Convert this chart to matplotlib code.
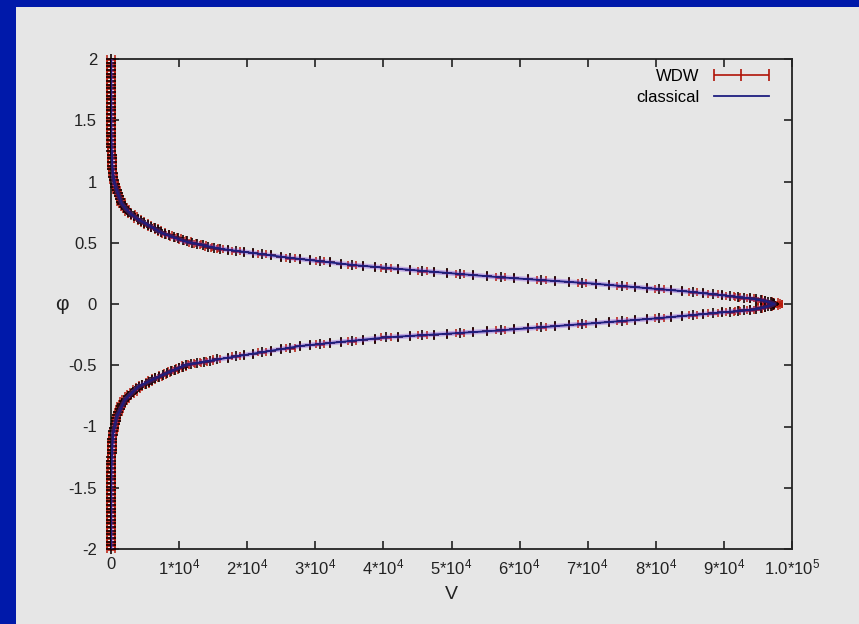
import matplotlib
matplotlib.use("Agg")
import matplotlib.pyplot as plt
from matplotlib.patches import Rectangle
from matplotlib.lines import Line2D
from matplotlib.container import ErrorbarContainer
from matplotlib.legend_handler import HandlerErrorbar

plt.rcParams["font.family"] = ["Liberation Sans", "DejaVu Sans"]
plt.rcParams["mathtext.default"] = "regular"

# WDW expectation values, upper branch (phi > 0)
v_upper = [
  0, 0, 0, 1, 1, 1, 1, 2, 2, 3, 3, 4, 5, 6, 7, 9, 11, 13, 16, 20, 25, 31, 38, 47, 58, 71, 88, 108, 133, 164, 200,
  260, 330, 410, 520, 640, 840, 1000, 1180, 1340, 1470, 1640, 1900, 2200, 2550, 2950, 3400, 3900, 4400,
  4900, 5400, 5900, 6400, 6900, 7400, 7950, 8550, 9200, 9850, 10500, 11200, 11950, 12700, 13500, 14300,
  15150, 16000,
  17200, 18400, 19600, 20900, 22200, 23500, 24900, 26300, 27700, 29200, 30700, 32200, 33800, 35400,
  37000, 38700, 40400, 42100, 43900, 45700, 47500, 49400, 51300, 53200, 55200, 57200, 59200, 61200,
  63200, 65200, 67200, 69200, 71200, 73100, 75000, 76900, 78700, 80500, 82200, 83900, 85500, 87000,
  88400, 89700, 90900, 92000, 93000, 93900, 94700, 95400, 96000, 96500, 96900, 97200, 97400,
]
phi_upper = [
  2.00, 1.97, 1.94, 1.91, 1.88, 1.85, 1.82, 1.79, 1.76, 1.73, 1.70, 1.67, 1.64, 1.61, 1.58, 1.55, 1.52,
  1.49, 1.46, 1.43, 1.40, 1.37, 1.34, 1.31, 1.28, 1.25, 1.22, 1.19, 1.16, 1.13, 1.10,
  1.07, 1.04, 1.01, 0.98, 0.955, 0.93, 0.905, 0.88, 0.855, 0.835, 0.815, 0.795, 0.775, 0.755, 0.735,
  0.715, 0.695, 0.68, 0.665, 0.648, 0.632, 0.618, 0.603, 0.588, 0.574, 0.561, 0.548, 0.536, 0.524,
  0.512, 0.500, 0.489, 0.479, 0.469, 0.460, 0.451,
  0.443, 0.434, 0.425, 0.416, 0.406, 0.397, 0.387, 0.377, 0.368, 0.358, 0.349, 0.340, 0.329, 0.319,
  0.311, 0.303, 0.295, 0.288, 0.279, 0.271, 0.262, 0.253, 0.245, 0.236, 0.227, 0.218, 0.210, 0.203,
  0.195, 0.188, 0.181, 0.173, 0.165, 0.156, 0.147, 0.138, 0.130, 0.121, 0.113, 0.105, 0.097, 0.088,
  0.079, 0.071, 0.064, 0.057, 0.051, 0.045, 0.040, 0.034, 0.027, 0.020, 0.013, 0.007, 0.002,
]

# WDW expectation values, lower branch (phi < 0)
v_lower = [
  0, 0, 0, 1, 1, 1, 1, 2, 2, 3, 3, 4, 5, 6, 7, 9, 11, 13, 16, 20, 25, 31, 38, 47, 58, 71, 88, 108, 133, 164, 200,
  270, 360, 460, 570, 680, 790, 930, 1090, 1270, 1450, 1640, 1850, 2140, 2500, 2900, 3300, 3700, 4100,
  4550, 5100, 5600, 6000, 6460, 7000, 7600, 8200, 8800, 9400, 10000, 10500, 10950, 11800, 12700, 13600,
  14500, 15500,
  17200, 18400, 19600, 20900, 22200, 23500, 24900, 26300, 27700, 29200, 30700, 32200, 33800, 35400,
  37000, 38700, 40400, 42100, 43900, 45700, 47500, 49400, 51300, 53200, 55200, 57200, 59200, 61200,
  63200, 65200, 67200, 69200, 71200, 73100, 75000, 76900, 78700, 80500, 82200, 83900, 85500, 87000,
  88400, 89700, 90900, 92000, 93000, 93900, 94700, 95400, 96000, 96500, 96900, 97200, 97400,
]
phi_lower = [
  -2.00, -1.97, -1.94, -1.91, -1.88, -1.85, -1.82, -1.79, -1.76, -1.73, -1.70, -1.67, -1.64, -1.61,
  -1.58, -1.55, -1.52, -1.49, -1.46, -1.43, -1.40, -1.37, -1.34, -1.31, -1.28, -1.25, -1.22, -1.19,
  -1.16, -1.13, -1.10,
  -1.07, -1.04, -1.01, -0.98, -0.955, -0.93, -0.905, -0.88, -0.855, -0.835, -0.815, -0.795, -0.775,
  -0.755, -0.735, -0.715, -0.695, -0.68, -0.665, -0.65, -0.636, -0.622, -0.607, -0.592, -0.578, -0.564,
  -0.551, -0.538, -0.525, -0.512, -0.500, -0.490, -0.481, -0.472, -0.463, -0.453,
  -0.438, -0.428, -0.417, -0.405, -0.393, -0.381, -0.369, -0.356, -0.343, -0.335, -0.327, -0.318,
  -0.309, -0.300, -0.291, -0.282, -0.273, -0.267, -0.261, -0.255, -0.249, -0.242, -0.236, -0.229,
  -0.223, -0.216, -0.207, -0.198, -0.189, -0.181, -0.172, -0.164, -0.155, -0.147, -0.139, -0.130,
  -0.123, -0.115, -0.107, -0.098, -0.090, -0.083, -0.076, -0.069, -0.063, -0.058, -0.053, -0.048,
  -0.041, -0.034, -0.027, -0.020, -0.013, -0.007, -0.002,
]

# spread in V for each WDW point (same ordering on both branches)
v_err = [
  560, 540, 580, 550, 560, 530, 570, 550, 540, 560, 580, 550, 540, 560, 570, 550, 530, 560, 550, 570,
  540, 560, 550, 580, 540, 560, 550, 570, 540, 560, 550,
  520, 480, 500, 460, 520, 480, 450, 500, 470, 520, 460, 500, 480, 450, 520, 470, 500, 460, 480, 520,
  450, 500, 470, 480, 520, 460, 500, 450, 480, 520, 470, 500, 460, 480, 500, 480,
  0, 600, 0, 0, 550, 0, 0, 650, 0, 0, 600, 0, 0, 550, 0, 0, 700, 0, 0, 650,
  0, 0, 600, 0, 0, 700, 0, 0, 650, 0, 0, 600, 0, 0, 700, 0, 0, 650, 0, 0,
  600, 0, 700, 0, 650, 400, 800, 500, 900, 700, 1000, 900, 1100, 1000, 1200,
]

# classical trajectory
v_classical = [
  0, 2, 10, 40, 100, 200, 330, 520, 840, 1200, 1570, 2200, 3040, 4000, 5000, 7440, 10870, 16250,
  25800, 35600, 45400, 57100, 70300, 85000, 90900, 93800, 96000, 97400,
  96000, 93800, 90900, 85500, 80100, 69200, 56600, 40500, 27750, 16700, 10870, 6460, 4010, 2060,
  840, 340, 150, 40, 10, 2, 0,
]
phi_classical = [
  2.0, 1.8, 1.6, 1.4, 1.25, 1.12, 1.04, 0.98, 0.93, 0.875, 0.82, 0.775, 0.73, 0.69, 0.66, 0.58, 0.51,
  0.45, 0.38, 0.318, 0.272, 0.218, 0.169, 0.10, 0.064, 0.046, 0.027, 0.0,
  -0.027, -0.049, -0.063, -0.090, -0.117, -0.164, -0.218, -0.272, -0.343, -0.443, -0.498, -0.607,
  -0.675, -0.78, -0.92, -1.05, -1.2, -1.4, -1.6, -1.8, -2.0,
]

x_ticks = [0, 1e4, 2e4, 3e4, 4e4, 5e4, 6e4, 7e4, 8e4, 9e4, 1e5]
x_tick_labels = ["0", "1*10$^4$", "2*10$^4$", "3*10$^4$", "4*10$^4$", "5*10$^4$",
                 "6*10$^4$", "7*10$^4$", "8*10$^4$", "9*10$^4$", "1.0*10$^5$"]
y_ticks = [-2, -1.5, -1, -0.5, 0, 0.5, 1, 1.5, 2]
y_tick_labels = ["-2", "-1.5", "-1", "-0.5", "0", "0.5", "1", "1.5", "2"]

RED = "#b81a0c"
LEG_RED = "#b01408"
NAVY = "#1e1e80"
PANEL = "#e6e6e6"

fig = plt.figure(figsize=(8.59, 6.24), dpi=100, facecolor="#0019aa")
fig.patches.append(Rectangle((16 / 859, 0), 1, 1 - 7 / 624, transform=fig.transFigure,
                             facecolor=PANEL, edgecolor="none", zorder=-1))

ax = fig.add_axes([111 / 859, 1 - 549 / 624, 681 / 859, 490 / 624])
ax.set_facecolor(PANEL)

for v, phi in [(v_upper, phi_upper), (v_lower, phi_lower)]:
  ax.errorbar(v, phi, xerr=v_err, fmt="none", ecolor=RED, elinewidth=1.9,
              capsize=3, capthick=1.1, clip_on=False, zorder=2)
  ax.plot(v, phi, ls="none", marker="+", ms=6.5, mew=1.2, color="#150000", clip_on=False, zorder=3)

ax.plot(v_classical, phi_classical, color="#8040e0", lw=3.5, alpha=0.35, zorder=4)
cl, = ax.plot(v_classical, phi_classical, color=NAVY, lw=1.3, zorder=5)

# thin stand-in for the legend entry
eb_key = ax.errorbar([float("nan")], [float("nan")], xerr=[1], fmt="none", ecolor=LEG_RED,
                     elinewidth=1.2, capsize=4, capthick=1.2)

ax.set_xlim(0, 1e5)
ax.set_ylim(-2, 2)
ax.set_xticks(x_ticks)
ax.set_xticklabels(x_tick_labels)
ax.set_yticks(y_ticks)
ax.set_yticklabels(y_tick_labels)
ax.tick_params(direction="in", length=6, width=1.2, top=True, right=True,
               labelsize=12, labelcolor="#222222", color="#222222")
ax.tick_params(axis="x", pad=6)
ax.tick_params(axis="y", pad=10)
for s in ax.spines.values():
  s.set_linewidth(1.3)
  s.set_color("#222222")

ax.set_xlabel("V", fontsize=14, color="#222222")
ax.xaxis.set_label_coords(0.5, -0.075)
ax.set_ylabel("φ", fontsize=15, rotation=0, color="#222222", va="center")
ax.yaxis.set_label_coords(-0.072, 0.5)

wdw_tick = Line2D([], [], ls="none", marker="|", ms=8, mew=1.2, color=LEG_RED)
ax.legend([(eb_key, wdw_tick), cl], ["WDW", "classical"],
          handler_map={ErrorbarContainer: HandlerErrorbar(xerr_size=1.65)},
          loc="upper right", bbox_to_anchor=(0.966, 0.979), frameon=False,
          markerfirst=False, fontsize=12, handlelength=3.3, handletextpad=0.85,
          labelspacing=0.35, borderpad=0, borderaxespad=0)

plt.savefig("out.png", dpi=100, facecolor=fig.get_facecolor())
